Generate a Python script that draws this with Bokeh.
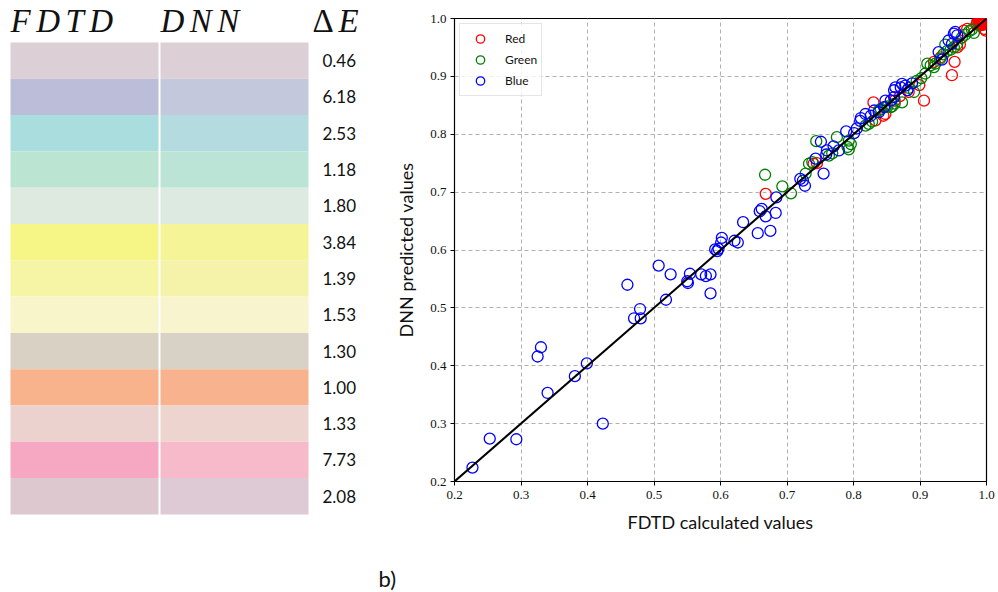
from bokeh.plotting import figure
from bokeh.models import Range1d, FixedTicker, ColumnDataSource, Legend, LegendItem
from bokeh.layouts import row, column
from bokeh.embed import file_html
from bokeh.resources import INLINE
from bokeh.core.properties import value

# ---------------- data ----------------
fdtd_colors = ["#DCCFD6", "#BCBED9", "#AADDDE", "#BCE4D2", "#DEEADF", "#F5F686", "#F6F5A6",
               "#F8F5CA", "#D8D1C4", "#F8B28C", "#ECD2CE", "#F6A8C2", "#DEC8D0"]
dnn_colors = ["#DCCFD6", "#C3C8DD", "#B4DBE0", "#BCE4D6", "#DCEAE1", "#F5F496", "#F5F2AA",
              "#F8F4CE", "#D8D2C6", "#F8B28E", "#EED4CE", "#F6BACA", "#DECAD4"]
delta_e = ["0.46", "6.18", "2.53", "1.18", "1.80", "3.84", "1.39", "1.53", "1.30", "1.00", "1.33", "7.73", "2.08"]

red_x = [0.668, 0.740, 0.745, 0.830, 0.833, 0.845, 0.848, 0.862, 0.870, 0.883, 0.899, 0.906, 0.921, 0.931,
         0.948, 0.952, 0.956, 0.960, 0.966, 0.971, 0.996, 0.999,
         0.985, 0.988, 0.991, 0.993, 0.995, 0.990, 0.997, 0.992, 0.989, 0.994, 0.986, 0.996, 0.991, 0.998,
         0.993, 0.990, 0.995, 0.992, 0.988, 0.994]
red_y = [0.697, 0.749, 0.750, 0.855, 0.824, 0.832, 0.835, 0.858, 0.866, 0.873, 0.885, 0.858, 0.925, 0.933,
         0.902, 0.925, 0.950, 0.955, 0.979, 0.982, 0.982, 0.979,
         0.990, 0.993, 0.996, 0.991, 0.998, 0.988, 0.995, 0.999, 0.997, 0.994, 0.994, 0.990, 0.992, 0.997,
         0.995, 0.993, 0.992, 0.997, 0.996, 0.989]

green_x = [0.667, 0.693, 0.706, 0.728, 0.733, 0.738, 0.744, 0.763, 0.768, 0.775, 0.791, 0.793, 0.793, 0.796,
           0.818, 0.823, 0.828, 0.838, 0.841, 0.848, 0.851, 0.856, 0.858, 0.862, 0.873, 0.883, 0.891,
           0.895, 0.902, 0.908, 0.911, 0.916, 0.921, 0.923, 0.930, 0.935, 0.938, 0.941, 0.946, 0.951,
           0.956, 0.963, 0.968, 0.974, 0.978, 0.981]
green_y = [0.730, 0.710, 0.698, 0.732, 0.749, 0.752, 0.788, 0.763, 0.767, 0.795, 0.778, 0.774, 0.789, 0.783,
           0.815, 0.818, 0.822, 0.841, 0.844, 0.847, 0.848, 0.847, 0.848, 0.853, 0.855, 0.880, 0.873,
           0.892, 0.897, 0.905, 0.922, 0.919, 0.916, 0.922, 0.930, 0.938, 0.955, 0.944, 0.946, 0.950,
           0.956, 0.967, 0.972, 0.978, 0.981, 0.975]

blue_x = [0.227, 0.253, 0.293, 0.325, 0.330, 0.340, 0.381, 0.399, 0.423, 0.460, 0.470, 0.479, 0.480,
          0.507, 0.518, 0.525, 0.550, 0.551, 0.554, 0.571, 0.578, 0.585, 0.585, 0.592, 0.595, 0.597,
          0.601, 0.602, 0.621, 0.626, 0.634, 0.656, 0.659, 0.662, 0.668, 0.675, 0.683, 0.684, 0.720,
          0.724, 0.727, 0.743, 0.751, 0.755, 0.759, 0.760, 0.770, 0.778, 0.789, 0.801, 0.805, 0.810,
          0.811, 0.818, 0.826, 0.831, 0.838, 0.846, 0.848, 0.856, 0.861, 0.861, 0.863, 0.871, 0.873,
          0.878, 0.881, 0.888, 0.928, 0.933, 0.943, 0.948, 0.951, 0.953, 0.956]
blue_y = [0.224, 0.274, 0.273, 0.416, 0.432, 0.353, 0.382, 0.404, 0.300, 0.540, 0.482, 0.498, 0.482,
          0.573, 0.514, 0.558, 0.546, 0.543, 0.559, 0.558, 0.555, 0.558, 0.525, 0.601, 0.598, 0.602,
          0.613, 0.621, 0.616, 0.613, 0.648, 0.629, 0.667, 0.671, 0.658, 0.633, 0.664, 0.691, 0.723,
          0.720, 0.711, 0.758, 0.787, 0.732, 0.765, 0.772, 0.779, 0.772, 0.805, 0.802, 0.810, 0.823,
          0.828, 0.835, 0.832, 0.841, 0.838, 0.847, 0.858, 0.858, 0.864, 0.876, 0.881, 0.881, 0.887,
          0.884, 0.876, 0.888, 0.942, 0.929, 0.962, 0.956, 0.974, 0.977, 0.971]

diag = [0.2, 1.0]
tick_vals = [0.2, 0.3, 0.4, 0.5, 0.6, 0.7, 0.8, 0.9, 1.0]
tick_labels = ["0.2", "0.3", "0.4", "0.5", "0.6", "0.7", "0.8", "0.9", "1.0"]
panel_tag = "b)"

# ---------------- layout constants ----------------
W, H = 998, 592
TOP_H = 545          # height of the row holding the table and the scatter plot
LW = 370             # width of the colour-table figure
ROW_H = 36.3
ROW0_TOP = 42.0

# ---------------- left panel: colour table ----------------
rows_idx = list(range(len(delta_e)))
y_top = -(ROW0_TOP + ROW_H / 2) / ROW_H
y_bot = (TOP_H - ROW0_TOP - ROW_H / 2) / ROW_H
left = figure(width=LW, height=TOP_H, output_backend="svg", toolbar_location=None,
              x_range=Range1d(0, LW), y_range=Range1d(y_bot, y_top),
              min_border=0, outline_line_color=None)
left.axis.visible = False
left.grid.visible = False
left.title.visible = False

src = ColumnDataSource(dict(i=rows_idx, top=[r - 0.5 for r in rows_idx], bottom=[r + 0.5 for r in rows_idx],
                            fdtd=fdtd_colors, dnn=dnn_colors, de=delta_e))
left.quad(left=10, right=158, top="top", bottom="bottom", fill_color="fdtd", line_color=None, source=src)
left.quad(left=160, right=308, top="top", bottom="bottom", fill_color="dnn", line_color=None, source=src)
left.text(x=322, y="i", text="de", source=src, text_baseline="middle", text_align="left",
          text_font=value("Lato"), text_font_size="17px", text_color="#111111")

hdr_y = (20 - ROW0_TOP - ROW_H / 2) / ROW_H
hdr = ColumnDataSource(dict(x=[10, 160, 338], y=[hdr_y] * 3,
                            t=["F\u2006D\u2006T\u2006D", "D\u2006N\u2006N", "E"]))
left.text(x="x", y="y", text="t", source=hdr, text_baseline="middle", text_align="left",
          text_font=value("Liberation Serif"), text_font_style="italic", text_font_size="33px",
          text_color="#111111")
left.text(x=[312], y=[hdr_y], text=["\u0394"], text_baseline="middle", text_align="left",
          text_font=value("Liberation Serif"), text_font_size="33px", text_color="#111111")

# ---------------- right panel: scatter ----------------
p = figure(frame_width=532, frame_height=463, output_backend="svg", toolbar_location=None,
           x_range=Range1d(0.2, 1.0), y_range=Range1d(0.2, 1.0),
           min_border_left=454 - LW, min_border_right=12, min_border_top=18,
           min_border_bottom=TOP_H - 18 - 463,
           outline_line_color="black", outline_line_width=1.2)
p.title.visible = False

r_red = p.scatter(red_x, red_y, marker="circle", size=11, fill_color=None, line_color="#ff0000", line_width=1.3)
r_green = p.scatter(green_x, green_y, marker="circle", size=11, fill_color=None, line_color="#008000", line_width=1.3)
r_blue = p.scatter(blue_x, blue_y, marker="circle", size=11, fill_color=None, line_color="#0000ff", line_width=1.3)
p.line(diag, diag, line_color="black", line_width=2)

for ax in (p.xaxis, p.yaxis):
    ax.ticker = FixedTicker(ticks=tick_vals)
    ax.major_label_overrides = {v: l for v, l in zip(tick_vals, tick_labels)}
    ax.major_label_text_font = "Liberation Serif"
    ax.major_label_text_font_size = "13px"
    ax.major_label_text_color = "#111111"
    ax.axis_label_text_font = "Lato"
    ax.axis_label_text_font_size = "18px"
    ax.axis_label_text_font_style = "normal"
    ax.axis_label_text_color = "#111111"
    ax.axis_line_color = "black"
    ax.major_tick_line_color = "black"
    ax.major_tick_in = 0
    ax.major_tick_out = 4
    ax.minor_tick_line_color = None
p.xaxis.major_label_standoff = 5
p.xaxis.axis_label_standoff = 9
p.yaxis.major_label_standoff = 4
p.yaxis.axis_label_standoff = 10
p.xaxis.axis_label = "FDTD calculated values"
p.yaxis.axis_label = "DNN predicted values"

p.grid.ticker = FixedTicker(ticks=tick_vals)
p.grid.grid_line_color = "#b0b0b0"
p.grid.grid_line_dash = "4 3"
p.grid.grid_line_width = 1

legend = Legend(items=[LegendItem(label="Red", renderers=[r_red]),
                       LegendItem(label="Green", renderers=[r_green]),
                       LegendItem(label="Blue", renderers=[r_blue])],
                location="top_left", margin=5, padding=4, spacing=0,
                glyph_width=32, glyph_height=21, label_height=21, label_standoff=9,
                label_text_font="Lato", label_text_font_size="12px", label_text_color="#111111",
                border_line_color="#cccccc", border_line_width=1,
                background_fill_color="white", background_fill_alpha=0.8)
p.add_layout(legend)

# ---------------- bottom strip with the panel tag ----------------
strip_h = H - TOP_H
strip = figure(width=W, height=strip_h, output_backend="svg", toolbar_location=None,
               x_range=Range1d(0, W), y_range=Range1d(strip_h, 0),
               min_border=0, outline_line_color=None)
strip.axis.visible = False
strip.grid.visible = False
strip.title.visible = False
strip.text(x=[378], y=[578 - TOP_H], text=[panel_tag], text_baseline="middle", text_align="left",
           text_font=value("Lato"), text_font_size="22px", text_color="#111111")

layout = column(row(column(left), column(p)), column(strip))
open("out.html", "w").write(file_html(layout, INLINE))
